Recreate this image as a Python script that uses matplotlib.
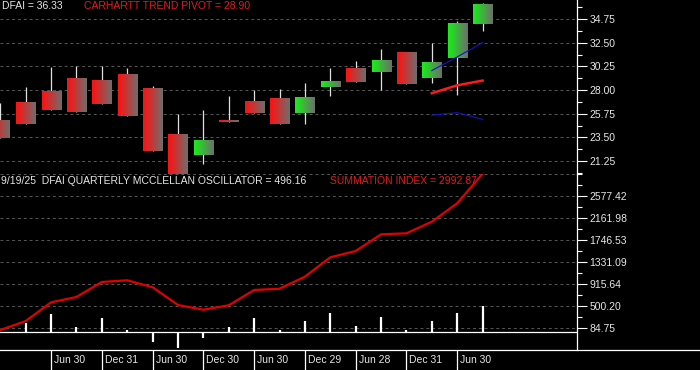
import numpy as np
import matplotlib
matplotlib.use('Agg')
import matplotlib.pyplot as plt
from matplotlib.colors import to_rgb
from matplotlib.lines import Line2D

plt.rcParams['font.family'] = ['Liberation Sans', 'DejaVu Sans']

# quarterly DFAI candles, Q4 2020 .. Q3 2025
opens  = [25.15, 26.86, 27.93, 29.14, 28.86, 29.52, 28.16, 23.82, 21.85, 25.15,
          26.96, 27.24, 25.84, 28.32, 30.09, 29.74, 31.61, 29.17, 31.07, 34.27]
highs  = [26.74, 28.26, 30.16, 30.28, 30.28, 30.06, 28.38, 25.69, 26.10, 27.43,
          28.00, 28.10, 28.67, 30.09, 30.76, 31.90, 31.61, 32.44, 34.53, 36.30]
lows   = [23.47, 24.80, 26.13, 25.94, 26.67, 25.56, 22.23, 19.92, 21.00, 24.99,
          25.84, 24.80, 24.80, 27.43, 28.79, 28.00, 28.57, 28.64, 27.53, 33.64]
closes = [23.47, 24.80, 26.13, 25.94, 26.67, 25.56, 22.23, 19.92, 23.25, 24.99,
          25.84, 24.80, 27.34, 28.86, 28.79, 30.85, 28.57, 30.66, 34.37, 36.08]

# trend pivot and bands on the last three quarters
band_idx = [17, 18, 19]
pivot = [27.70, 28.45, 28.90]
upper_band = [29.85, 31.15, 32.50]
lower_band = [25.62, 25.85, 25.22]

summation = [41.5, 211, 564, 665, 948, 980, 848, 513, 425, 508,
             797, 821, 1048, 1414, 1533, 1848, 1867, 2086, 2434, 2992.87]
oscillator = [0, 179, 344, 98, 268, 36, -185, -293, -104, 98,
              268, 42, 211, 357, 117, 287, 36, 211, 362, 496.16]

date_idx = [2, 4, 6, 8, 10, 12, 14, 16, 18]
date_labels = ['Jun 30', 'Dec 31', 'Jun 30', 'Dec 30', 'Jun 30',
               'Dec 29', 'Jun 28', 'Dec 31', 'Jun 30']

price_ticks = [21.25, 23.50, 25.75, 28.00, 30.25, 32.50, 34.75]
sum_ticks = [84.75, 500.20, 915.64, 1331.09, 1746.53, 2161.98, 2577.42]
sum_top = 2992.87

W, H = 700, 370
fs = 7.5
txt = '#e6e6e6'
red_txt = '#e31b1b'
grid_c = '#575757'


def box(top, bottom, right=577):
    return [0, 1 - bottom / H, right / W, (bottom - top) / H]


def grad(c):
    c0 = np.array(to_rgb(c))
    c1 = np.array([0.43, 0.43, 0.43])
    t = np.linspace(0, 1, 32)[:, None]
    return (c0 * (1 - t) + c1 * t)[None, :, :]


def style(ax):
    ax.set_facecolor('none')
    for s in ['left', 'top', 'bottom']:
        ax.spines[s].set_visible(False)
    ax.spines['right'].set_color('white')
    ax.spines['right'].set_linewidth(0.9)
    ax.yaxis.tick_right()
    ax.set_xticks([])
    ax.tick_params(axis='y', which='major', length=7, width=0.8, colors='white',
                   labelcolor=txt, labelsize=fs, pad=2)
    ax.tick_params(axis='y', which='minor', length=3.5, width=0.8, colors='white')


fig = plt.figure(figsize=(7, 3.7), dpi=100, facecolor='black')
ax1 = fig.add_axes(box(0, 174))
ax2 = fig.add_axes(box(173.5, 350))
ax3 = fig.add_axes(box(350, 370))

xmin, xmax = -0.012, 22.72
x = np.arange(len(opens))

# --- price panel
style(ax1)
for t in price_ticks:
    ax1.axhline(t, color=grid_c, lw=0.7, ls=(0, (3, 3)), zorder=0)
ax1.vlines(x, lows, highs, color='#e0e0e0', lw=0.9, zorder=2)
for i in range(len(opens)):
    c = '#19ee19' if closes[i] > opens[i] else '#ff1010'
    lo, hi = min(opens[i], closes[i]), max(opens[i], closes[i])
    if hi - lo < 0.15:
        hi = lo + 0.15
    ax1.imshow(grad(c), extent=[x[i] - 0.375, x[i] + 0.375, lo, hi],
               aspect='auto', interpolation='bilinear', zorder=3)
ax1.plot(band_idx, upper_band, color='#1414c8', lw=0.8, zorder=4)
ax1.plot(band_idx, lower_band, color='#1414c8', lw=0.8, zorder=4)
ax1.plot(band_idx, pivot, color='#ff1a1a', lw=1.8, zorder=4)
ax1.set_xlim(xmin, xmax)
ax1.set_ylim(20.02, 36.56)
ax1.set_yticks(price_ticks)
ax1.set_yticklabels(['%.2f' % t for t in price_ticks])
ax1.set_yticks([t + 1.125 for t in price_ticks] + [price_ticks[0] - 1.125], minor=True)

# --- summation / oscillator panel
style(ax2)
for t in sum_ticks + [sum_top]:
    ax2.axhline(t, color=grid_c, lw=0.7, ls=(0, (3, 3)), zorder=0)
ax2.axhline(0, color='white', lw=0.9, zorder=1)
ax2.vlines(x, 0, oscillator, color='white', lw=1.6, zorder=2)
ax2.plot(x, summation, color='#e00000', lw=1.6, zorder=3)
ax2.set_xlim(xmin, xmax)
ax2.set_ylim(-336, 2996)
ax2.set_yticks(sum_ticks)
ax2.set_yticklabels(['%.2f' % t for t in sum_ticks])
step = sum_ticks[1] - sum_ticks[0]
ax2.set_yticks([t + step / 2 for t in sum_ticks] + [sum_top], minor=True)

# --- date strip
ax3.set_facecolor('none')
ax3.axis('off')
ax3.set_xlim(xmin, xmax)
ax3.set_ylim(0, 1)
ax3.vlines(date_idx, 0, 1, color='white', lw=0.9)
for i, lab in zip(date_idx, date_labels):
    ax3.text(i + 0.12, 0.5, lab, color=txt, fontsize=fs, va='center', ha='left')

fig.add_artist(Line2D([0, 1], [1 - 350 / H] * 2, color='white', lw=0.9))

fig.text(1.5 / W, 1 - 6 / H, 'DFAI = 36.33', color=txt, fontsize=fs, va='center')
fig.text(84 / W, 1 - 6 / H, 'CARHARTT TREND PIVOT = 28.90', color=red_txt,
         fontsize=fs, va='center')
fig.text(1 / W, 1 - 181 / H, '9/19/25  DFAI QUARTERLY MCCLELLAN OSCILLATOR = 496.16',
         color=txt, fontsize=fs, va='center')
fig.text(330 / W, 1 - 181 / H, 'SUMMATION INDEX = 2992.87', color=red_txt,
         fontsize=fs, va='center')

fig.savefig('out.png', dpi=100, facecolor='black')
